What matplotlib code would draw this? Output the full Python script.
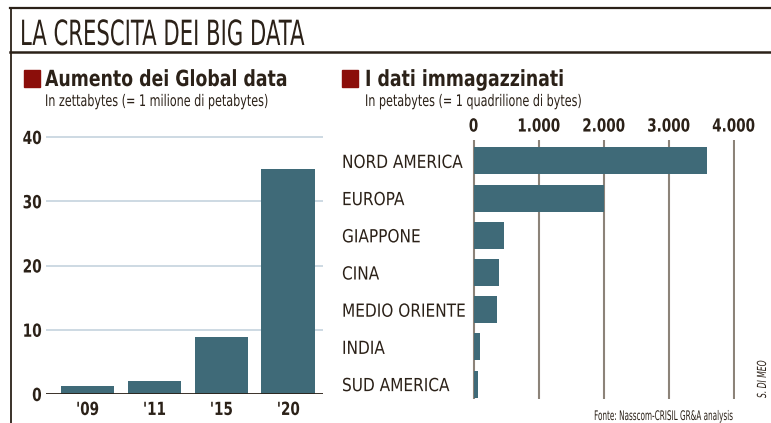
import matplotlib
matplotlib.use("Agg")
import matplotlib.pyplot as plt
from matplotlib.lines import Line2D
from matplotlib.patches import Rectangle
from matplotlib.patheffects import AbstractPathEffect
from matplotlib.transforms import Affine2D, Bbox

# data
years = ["'09", "'11", "'15", "'20"]
zettabytes = [1.3, 2.0, 8.9, 35.0]

regions = ["NORD AMERICA", "EUROPA", "GIAPPONE", "CINA", "MEDIO ORIENTE", "INDIA", "SUD AMERICA"]
petabytes = [3590, 2000, 470, 385, 355, 105, 75]

left_ticks = [0, 10, 20, 30, 40]
right_ticks = [0, 1000, 2000, 3000, 4000]
right_tick_labels = ["0", "1.000", "2.000", "3.000", "4.000"]

# colours
DARK = "#2b2118"
BAR = "#3f6a78"
RED = "#8b0e0a"
GRID_L = "#c9d7e0"
GRID_R = "#8c8379"

plt.rcParams["font.family"] = ["DejaVu Sans"]
plt.rcParams["text.color"] = DARK


class Squeeze(AbstractPathEffect):
    # narrows text along its writing direction to mimic the condensed newspaper font
    def __init__(self, sx, anchor="left"):
        super().__init__()
        self.sx = sx
        self.anchor = anchor

    def draw_path(self, renderer, gc, tpath, affine, rgbFace=None):
        ext = tpath.get_extents()
        if self.anchor == "left":
            cx = 0
        elif self.anchor == "right":
            cx = ext.x1
        else:
            cx = (ext.x0 + ext.x1) / 2
        t = Affine2D().translate(-cx, 0).scale(self.sx, 1).translate(cx, 0) + affine
        renderer.draw_path(gc, tpath, t, rgbFace)


def squeeze(texts, sx, anchor="left", vertical=False):
    for t in texts:
        t.set_path_effects([Squeeze(sx, anchor)])
        orig = t.get_window_extent

        # report the narrowed box so layout sees the drawn size
        def extent(renderer=None, dpi=None, _o=orig, _sx=sx, _a=anchor, _v=vertical):
            bb = _o(renderer, dpi)
            if _v:
                h = bb.height * _sx
                y0 = bb.y0 if _a == "left" else (bb.y1 - h if _a == "right" else bb.y0 + (bb.height - h) / 2)
                return Bbox.from_bounds(bb.x0, y0, bb.width, h)
            w = bb.width * _sx
            x0 = bb.x0 if _a == "left" else (bb.x1 - w if _a == "right" else bb.x0 + (bb.width - w) / 2)
            return Bbox.from_bounds(x0, bb.y0, w, bb.height)

        t.get_window_extent = extent


W, H = 771, 423
fig = plt.figure(figsize=(W / 100, H / 100), dpi=100)
fig.patch.set_facecolor("white")


def fx(px):
    return px / W


def fy(py):
    return 1 - py / H


# frame lines
fig.add_artist(Line2D([fx(10), 1], [fy(8.5), fy(8.5)], color=DARK, lw=1.6, transform=fig.transFigure))
fig.add_artist(Line2D([fx(10), 1], [fy(52.5), fy(52.5)], color=DARK, lw=1.8, transform=fig.transFigure))
fig.add_artist(Line2D([fx(10.5), fx(10.5)], [fy(8), 0], color=DARK, lw=1.3, transform=fig.transFigure))

# main title
t = fig.text(fx(20), fy(45), "LA CRESCITA DEI BIG DATA", fontsize=25, color=DARK, va="baseline", ha="left")
squeeze([t], 0.61)

# section headings
for sx, tx, head, sub in [
    (24, 45, "Aumento dei Global data", "In zettabytes (= 1 milione di petabytes)"),
    (342, 365, "I dati immagazzinati", "In petabytes (= 1 quadrilione di bytes)"),
]:
    fig.add_artist(Rectangle((fx(sx), fy(87)), 16 / W, 17 / H, color=RED, transform=fig.transFigure))
    h = fig.text(fx(tx), fy(86), head, fontsize=16, fontweight="bold", color=DARK, va="baseline")
    squeeze([h], 0.78)
    s1 = fig.text(fx(tx), fy(106), sub, fontsize=11.5, color=DARK, va="baseline")
    squeeze([s1], 0.70)

# left chart: global data growth
lpx_per = 257 / 40
ax1 = fig.add_axes([fx(46), fy(394), fx(323) - fx(46), 40.6 * lpx_per / H])
x = range(len(years))
ax1.bar(x, zettabytes, width=0.8, color=BAR, zorder=3)
ax1.set_xlim(-0.62, 3.52)
ax1.set_ylim(0, 40.6)
for v in left_ticks[1:]:
    ax1.axhline(v, color=GRID_L, lw=1.3, zorder=1)
ax1.axhline(0, color=DARK, lw=1.3, zorder=4)
for s in ax1.spines.values():
    s.set_visible(False)
ax1.set_yticks(left_ticks)
ax1.set_yticklabels([str(v) for v in left_ticks], fontsize=13, fontweight="bold", color=DARK)
ax1.set_xticks(list(x))
ax1.set_xticklabels(years, fontsize=13, fontweight="bold", color=DARK)
ax1.tick_params(axis="y", length=0, pad=3)
ax1.tick_params(axis="x", length=0, pad=5)
squeeze(ax1.get_yticklabels(), 0.76, "right")
squeeze(ax1.get_xticklabels(), 0.75, "center")

# right chart: stored data by region
rpx_per = 65 / 1000
row = 37.2
ax2 = fig.add_axes([fx(473.5 - 30 * rpx_per), fy(399), (4060 * rpx_per) / W, 6.97 * row / H])
ax2.barh(range(len(regions)), petabytes, height=0.73, color=BAR, zorder=3)
ax2.set_xlim(-30, 4030)
ax2.set_ylim(6.4, -0.57)
ax2.set_xticks(right_ticks)
ax2.set_xticklabels(right_tick_labels, fontsize=13, fontweight="bold", color=DARK)
ax2.xaxis.tick_top()
ax2.grid(axis="x", color=GRID_R, lw=1.5, zorder=1)
ax2.set_axisbelow(True)
for s in ax2.spines.values():
    s.set_visible(False)
ax2.set_yticks(range(len(regions)))
ax2.set_yticklabels(regions, fontsize=13, color=DARK)
for lab in ax2.get_yticklabels():
    lab.set_ha("left")
ax2.tick_params(axis="y", length=0, pad=(473.5 - 30 * rpx_per - 342) * 0.72)
ax2.tick_params(axis="x", length=0, pad=3)
squeeze(ax2.get_xticklabels(), 0.75, "center")
squeeze(ax2.get_yticklabels(), 0.85, "left")

# source and credit
f = fig.text(fx(734), fy(420), "Fonte: Nasscom-CRISIL GR&A analysis", fontsize=9.5, color=DARK,
             ha="right", va="baseline")
squeeze([f], 0.55, "right")
c = fig.text(fx(769), fy(398), "S. DI MEO", fontsize=9, style="italic", color=DARK,
             rotation=90, ha="right", va="bottom")
squeeze([c], 0.61, "left", vertical=True)

fig.savefig("out.png", dpi=100)
